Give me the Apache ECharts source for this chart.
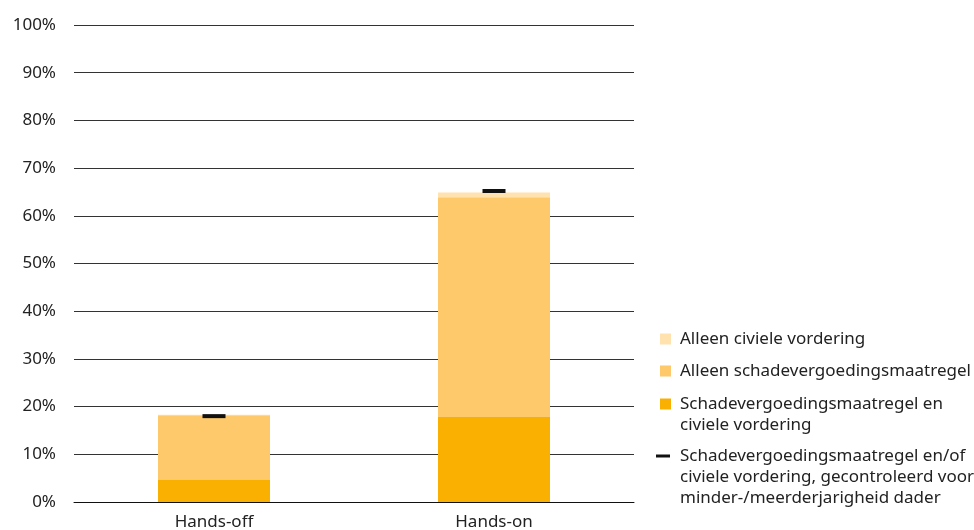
<!DOCTYPE html>
<html>
<head>
<meta charset="utf-8">
<script src="https://cdn.jsdelivr.net/npm/echarts@6/dist/echarts.min.js"></script>
<style>html,body{margin:0;padding:0;background:#fff}#c{width:974px;height:530px}</style>
</head>
<body>
<div id="c"></div>
<script>
var categories = ['Hands-off', 'Hands-on'];
var bothValues = [4.6, 17.8];
var onlySchadeValues = [13.6, 46.1];
var onlyCivielValues = [0.1, 1.0];
var controlledValues = [18.0, 65.2];
var seriesNames = [
  'Schadevergoedingsmaatregel en civiele vordering',
  'Alleen schadevergoedingsmaatregel',
  'Alleen civiele vordering',
  'Schadevergoedingsmaatregel en/of civiele vordering, gecontroleerd voor minder-/meerderjarigheid dader'
];
var legendLines = [
  ['Alleen civiele vordering'],
  ['Alleen schadevergoedingsmaatregel'],
  ['Schadevergoedingsmaatregel en', 'civiele vordering'],
  ['Schadevergoedingsmaatregel en/of', 'civiele vordering, gecontroleerd voor', 'minder-/meerderjarigheid dader']
];
var colors = ['#F9B000', '#FDC96B', '#FFE2AE', '#111111'];

var FONT = 'Noto Sans';
var FS = 17;
var LH = 21;

// legend drawn as graphic (icon aligned with first line)
var legendOrder = [2, 1, 0, 3];
var firstLineY = [339, 371, 404, 456];
var graphics = [];
legendOrder.forEach(function (si, k) {
  var cy = firstLineY[k];
  if (si === 3) {
    graphics.push({type: 'rect', left: 656, top: cy - 1.5, shape: {width: 14, height: 3}, style: {fill: colors[3]}});
  } else {
    graphics.push({type: 'rect', left: 660, top: cy - 5.5, shape: {width: 11, height: 11}, style: {fill: colors[si]}});
  }
  var lines = legendLines[k];
  graphics.push({
    type: 'text', left: 680, top: cy - LH / 2,
    style: {text: lines.join('\n'), font: FS + 'px "' + FONT + '"', fill: '#222', lineHeight: LH}
  });
});

var chart = echarts.init(document.getElementById('c'), null, {renderer: 'canvas'});
chart.setOption({
  animation: false,
  color: colors,
  grid: {left: 74, right: 340, top: 25, bottom: 28, outerBoundsMode: 'none', containLabel: false},
  legend: {show: false, data: seriesNames},
  graphic: graphics,
  xAxis: {
    type: 'category',
    data: categories,
    axisLine: {show: true, lineStyle: {color: '#111', width: 1}},
    axisTick: {show: false},
    axisLabel: {fontFamily: FONT, fontSize: FS, color: '#222', margin: 12}
  },
  yAxis: {
    type: 'value',
    min: 0, max: 100, interval: 10,
    axisLine: {show: false},
    axisTick: {show: false},
    axisLabel: {fontFamily: FONT, fontSize: FS, color: '#222', margin: 18, formatter: '{value}%'},
    splitLine: {show: true, lineStyle: {color: '#333', width: 1}}
  },
  series: [
    {name: seriesNames[0], type: 'bar', stack: 's', barWidth: 112, data: bothValues, itemStyle: {color: colors[0]}},
    {name: seriesNames[1], type: 'bar', stack: 's', data: onlySchadeValues, itemStyle: {color: colors[1]}},
    {name: seriesNames[2], type: 'bar', stack: 's', data: onlyCivielValues, itemStyle: {color: colors[2]}},
    {name: seriesNames[3], type: 'scatter', symbol: 'rect', symbolSize: [23, 4], data: controlledValues, itemStyle: {color: colors[3], opacity: 1}, z: 5}
  ]
});
</script>
</body>
</html>
